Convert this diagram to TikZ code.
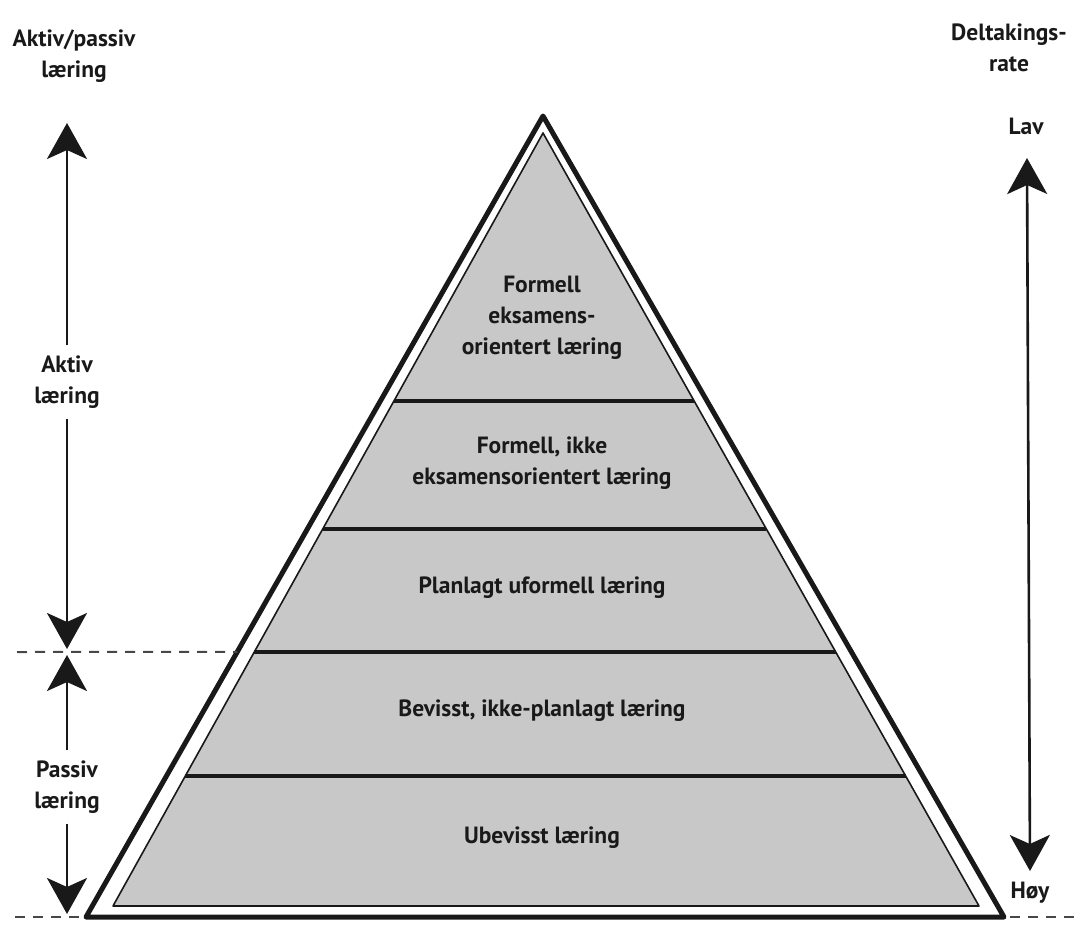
\documentclass[tikz,border=0pt]{standalone}
\usepackage{fontspec}
\setmainfont{PT Sans}
\usetikzlibrary{arrows.meta,calc}
\definecolor{layergray}{RGB}{200,200,200}
\definecolor{ink}{RGB}{25,25,25}
\begin{document}
\begin{tikzpicture}[x=1pt,y=-1pt,
  lbl/.style={align=center,text=ink,font=\fontsize{23.5}{31}\selectfont\bfseries,inner sep=0pt},
  side/.style={align=center,text=ink,font=\fontsize{23.5}{31}\selectfont\bfseries,inner sep=10pt},
  arr/.style={draw=ink,line width=2.6pt,-{Stealth[length=36pt,width=40pt,inset=9pt]}},
  dbl/.style={draw=ink,line width=2.6pt,{Stealth[length=36pt,width=40pt,inset=9pt]}-{Stealth[length=36pt,width=40pt,inset=9pt]}},
  outerline/.style={draw=ink,line width=5pt,line join=round},
  innerline/.style={draw=ink,line width=1.6pt,fill=layergray,line join=round},
  sepline/.style={draw=ink,line width=4pt},
  dashline/.style={draw=ink!80,line width=2pt,dash pattern=on 10pt off 8pt}
]
\useasboundingbox (0,0) rectangle (1077,937);
% pyramid corners
\coordinate (A) at (543,116);
\coordinate (BL) at (86,917);
\coordinate (BR) at (1004,917);
\coordinate (a) at (543,133);
\coordinate (bl) at (113,906);
\coordinate (br) at (979,906);
\draw[outerline] (A) -- (BL) -- (BR) -- cycle;
\draw[innerline] (a) -- (bl) -- (br) -- cycle;
% layer separators
\foreach \t/\n in {0.3467/1,0.5123/2,0.6714/3,0.8318/4}{
  \coordinate (sl\n) at ($(a)!\t!(bl)$);
  \coordinate (sr\n) at ($(a)!\t!(br)$);
  \draw[sepline] (sl\n) -- (sr\n);
}
% layer labels
\node[lbl] (l1) at (542,318) {Formell\\eksamens-\\orientert læring};
\node[lbl] (l2) at (542,463) {Formell, ikke\\eksamensorientert læring};
\node[lbl] (l3) at (542,588) {Planlagt uformell læring};
\node[lbl] (l4) at (542,711) {Bevisst, ikke-planlagt læring};
\node[lbl] (l5) at (542,838) {Ubevisst læring};
% left scale
\node[lbl] (ap) at (74,56) {Aktiv/passiv\\læring};
\node[side] (aktiv) at (67,382) {Aktiv\\læring};
\node[side] (passiv) at (67,787) {Passiv\\læring};
\coordinate (ltop) at (67,123);
\coordinate (lmid1) at (67,649);
\coordinate (lmid2) at (67,655);
\coordinate (lbot) at (67,914);
\draw[arr] (aktiv.north) -- (ltop);
\draw[arr] (aktiv.south) -- (lmid1);
\draw[arr] (passiv.north) -- (lmid2);
\draw[arr] (passiv.south) -- (lbot);
\coordinate (dl1) at (17,652);
\coordinate (dm) at ($(A)!0.669!(BL)$);
\draw[dashline] (dl1) -- (dm);
\coordinate (dl2) at (15,917);
\draw[dashline] (dl2) -- (BL);
% right scale
\node[lbl] (dr) at (1009,48) {Deltakings-\\rate};
\node[lbl] (lav) at (1026,126) {Lav};
\node[lbl] (hoy) at (1030,893) {Høy};
\coordinate (rtop) at (1027,158);
\coordinate (rbot) at (1030,871);
\draw[dbl] (rtop) -- (rbot);
\coordinate (dr2) at (1077,917);
\draw[dashline,shorten <=6pt] (BR) -- (dr2);
\end{tikzpicture}
\end{document}
